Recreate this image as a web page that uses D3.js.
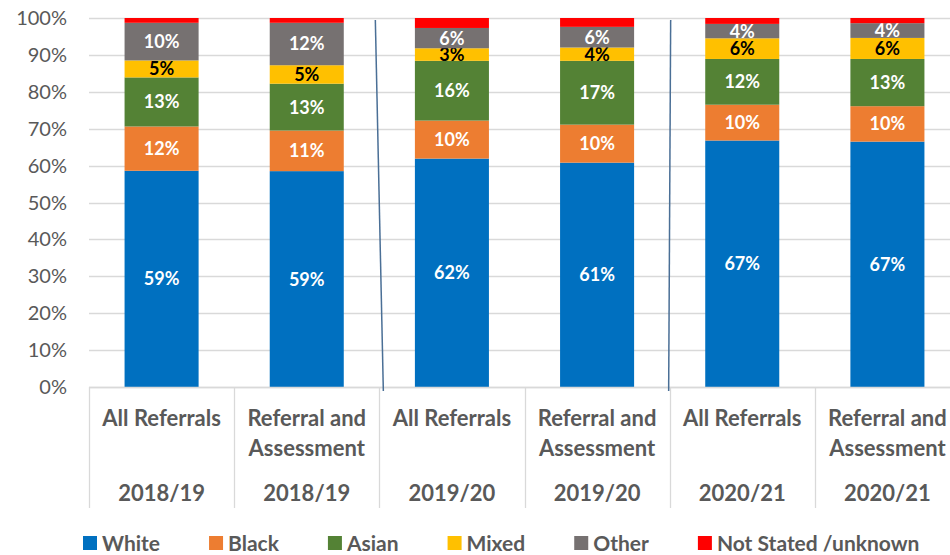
<!DOCTYPE html>
<html>
<head>
<meta charset="utf-8">
<script src="https://cdn.jsdelivr.net/npm/d3@7"></script>
<style>
  html, body { margin: 0; padding: 0; background: #fff; }
  svg { display: block; font-family: Lato, "Open Sans", sans-serif; }
</style>
</head>
<body>
<svg id="chart" width="950" height="555"></svg>
<script>
// categories: first line, second line, year
const typeLabels = [['All Referrals'], ['Referral and', 'Assessment'], ['All Referrals'], ['Referral and', 'Assessment'], ['All Referrals'], ['Referral and', 'Assessment']];
const years = ['2018/19', '2018/19', '2019/20', '2019/20', '2020/21', '2020/21'];

const seriesNames = ['White', 'Black', 'Asian', 'Mixed', 'Other', 'Not Stated /unknown'];
const seriesColors = ['#0070c0', '#ed7d31', '#548235', '#ffc000', '#767171', '#ff0000'];
const labelColors = ['#fff', '#fff', '#fff', '#000', '#fff', null];

const white = [58.6, 58.5, 61.9, 60.8, 66.8, 66.5];
const black = [12.0, 11.0, 10.3, 10.3, 9.7, 9.6];
const asian = [13.3, 12.7, 16.2, 17.3, 12.4, 12.8];
const mixed = [4.6, 5.0, 3.4, 3.6, 5.6, 5.7];
const other = [10.2, 11.5, 5.5, 5.6, 3.9, 4.0];
const notStated = [1.3, 1.3, 2.7, 2.4, 1.6, 1.4];

const yTicks = [0, 10, 20, 30, 40, 50, 60, 70, 80, 90, 100];

const series = [white, black, asian, mixed, other, notStated];
const cats = years.map((y, i) => i);

const svg = d3.select('#chart');
const plotLeft = 89, plotRight = 960, plotTop = 18, plotBottom = 387;

const x = d3.scaleBand()
  .domain(cats)
  .range([plotLeft, plotRight])
  .paddingInner(0.49)
  .paddingOuter(0.245);
const step = x.step();
const edge = i => plotLeft + i * step;

const y = d3.scaleLinear().domain([0, 100]).range([plotBottom, plotTop]);

// gridlines
svg.append('g')
  .selectAll('line')
  .data(yTicks)
  .enter()
  .append('line')
  .attr('x1', plotLeft)
  .attr('x2', 950)
  .attr('y1', d => Math.round(y(d)) + 0.5)
  .attr('y2', d => Math.round(y(d)) + 0.5)
  .attr('stroke', '#d9d9d9')
  .attr('stroke-width', 1.3);

// y axis labels
svg.append('g')
  .selectAll('text')
  .data(yTicks)
  .enter()
  .append('text')
  .attr('x', 67)
  .attr('y', d => y(d))
  .attr('dy', '0.35em')
  .attr('text-anchor', 'end')
  .attr('fill', '#595959')
  .style('font-size', '20px')
  .text(d => d + '%');

// stacked bars
const rows = cats.map(i => {
  const row = { i };
  seriesNames.forEach((s, k) => row[s] = series[k][i]);
  return row;
});
const stacked = d3.stack().keys(seriesNames)(rows);

const layers = svg.append('g')
  .selectAll('g')
  .data(stacked)
  .enter()
  .append('g')
  .attr('fill', (d, k) => seriesColors[k]);

layers.selectAll('rect')
  .data(d => d)
  .enter()
  .append('rect')
  .attr('x', d => x(d.data.i))
  .attr('width', x.bandwidth())
  .attr('y', d => y(d[1]))
  .attr('height', d => y(d[0]) - y(d[1]));

// value labels
layers.filter((d, k) => labelColors[k])
  .selectAll('text')
  .data(d => d.map(p => ({ p, k: d.index })))
  .enter()
  .append('text')
  .attr('x', d => x(d.p.data.i) + x.bandwidth() / 2)
  .attr('y', d => y((d.p[0] + d.p[1]) / 2))
  .attr('dy', '0.36em')
  .attr('text-anchor', 'middle')
  .attr('fill', d => labelColors[d.k])
  .style('font-size', '18px')
  .style('font-weight', 'bold')
  .text(d => Math.round(series[d.k][d.p.data.i]) + '%');

// category axis lines
svg.append('line')
  .attr('x1', plotLeft).attr('x2', 950)
  .attr('y1', plotBottom + 0.5).attr('y2', plotBottom + 0.5)
  .attr('stroke', '#d9d9d9').attr('stroke-width', 1.3);

svg.append('g')
  .selectAll('line')
  .data(d3.range(cats.length + 1))
  .enter()
  .append('line')
  .attr('x1', d => Math.round(edge(d)) + 0.5)
  .attr('x2', d => Math.round(edge(d)) + 0.5)
  .attr('y1', plotBottom)
  .attr('y2', 508)
  .attr('stroke', '#d9d9d9')
  .attr('stroke-width', 1.3);

// period separators
const seps = [[2, -4, 4], [4, 1, -1]];
svg.append('g')
  .selectAll('line')
  .data(seps)
  .enter()
  .append('line')
  .attr('x1', d => edge(d[0]) + d[1])
  .attr('x2', d => edge(d[0]) + d[2])
  .attr('y1', plotTop + 2)
  .attr('y2', plotBottom + 4)
  .attr('stroke', '#4a6f96')
  .attr('stroke-width', 1.5);

// category labels
const catG = svg.append('g')
  .attr('fill', '#595959')
  .style('font-size', '22px')
  .style('font-weight', 'bold')
  .attr('text-anchor', 'middle');

cats.forEach(i => {
  const cx = edge(i) + step / 2;
  typeLabels[i].forEach((t, j) => {
    catG.append('text').attr('x', cx).attr('y', 426 + j * 30).text(t);
  });
  catG.append('text').attr('x', cx).attr('y', 501).text(years[i]);
});

// legend
const legend = svg.append('g')
  .style('font-size', '21px')
  .style('font-weight', 'bold');
let lx = 83;
seriesNames.forEach((s, k) => {
  const item = legend.append('g').attr('transform', `translate(${lx},0)`);
  item.append('rect')
    .attr('x', 0).attr('y', 536)
    .attr('width', 14).attr('height', 14)
    .attr('fill', seriesColors[k]);
  const t = item.append('text')
    .attr('x', 19).attr('y', 551)
    .attr('fill', '#595959')
    .text(s);
  lx += 19 + t.node().getComputedTextLength() + 49;
});
</script>
</body>
</html>
